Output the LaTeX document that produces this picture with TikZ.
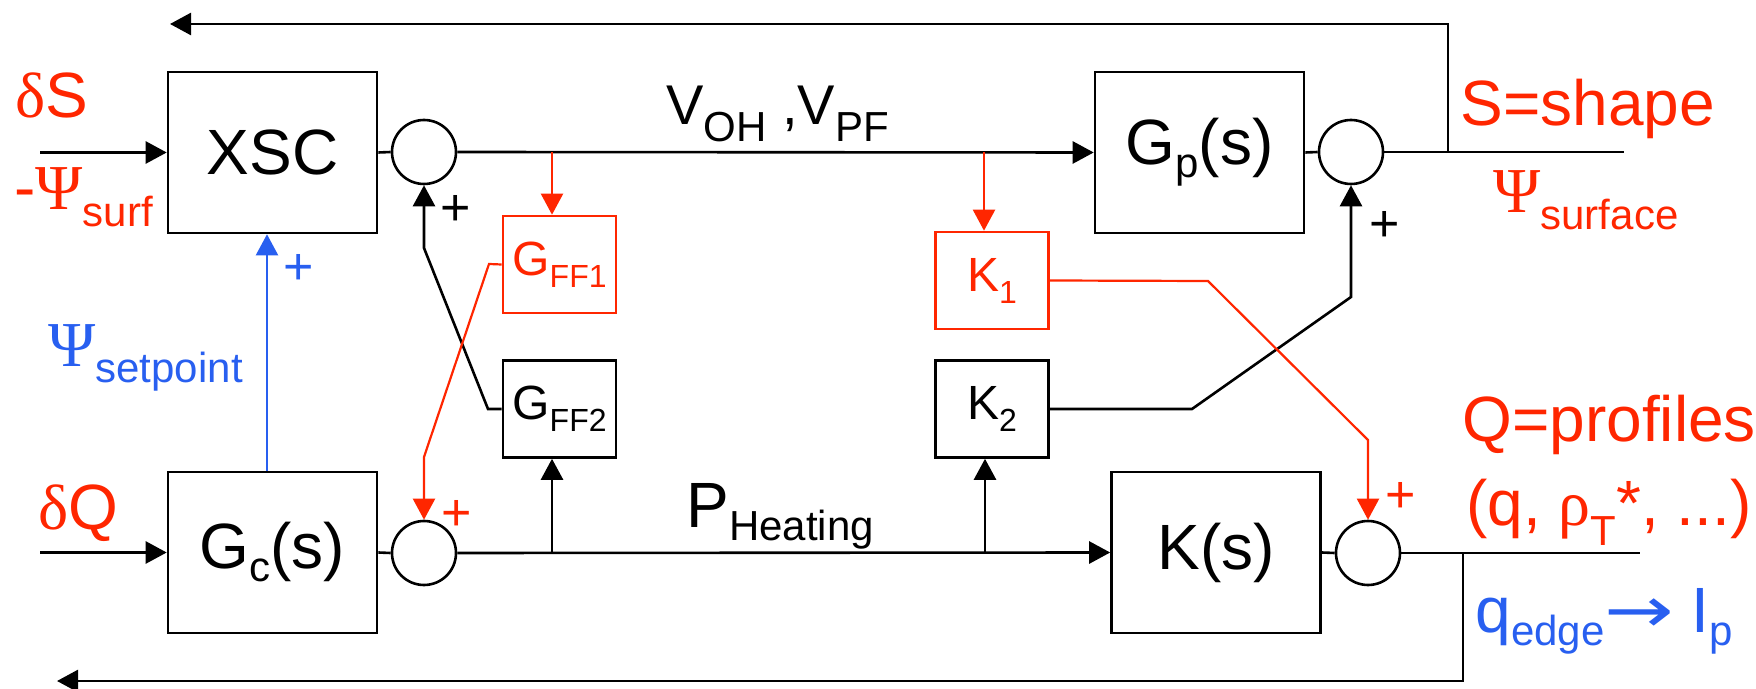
\documentclass[tikz,border=0pt]{standalone}
\usepackage{fontspec}
\setmainfont{Liberation Sans}
\newfontfamily\gk{Liberation Serif}
\newfontfamily\dvs{DejaVu Sans}
\usetikzlibrary{arrows.meta}
\definecolor{rd}{RGB}{255,38,0}
\definecolor{bl}{RGB}{40,95,240}
\newcommand\fsz[1]{\fontsize{#1pt}{#1pt}\selectfont}
\newcommand\lo[3]{\raisebox{-#1pt}{\fsz{#2}#3}}
\begin{document}
\begin{tikzpicture}[x=0.5pt,y=-0.5pt,
  bigbox/.style={draw,line width=1.3pt,minimum width=104.5pt,minimum height=80.5pt,inner sep=0pt,font=\fsz{32}},
  smallbox/.style={draw,line width=1.3pt,minimum width=56.5pt,minimum height=48.5pt,inner sep=0pt,font=\fsz{24}},
  sumnode/.style={draw,circle,line width=1.3pt,minimum size=32pt,inner sep=0pt},
  wire/.style={line width=1.3pt},
  rwire/.style={line width=1.1pt,draw=rd},
  bwire/.style={line width=1.1pt,draw=bl},
  arr/.style={-{Triangle[length=10.5pt,width=11pt]}},
  lbl/.style={inner sep=0pt,anchor=base west,font=\fsz{32}},
  sgn/.style={inner sep=0pt,font=\fsz{26}}]
\useasboundingbox (0,0) rectangle (1756,689);

% boxes
\node[bigbox] (XSC) at (272.5,152.5) {XSC};
\node[bigbox] (Gc) at (272.5,552.5) {G\lo{6.5}{21}{c}(s)};
\node[bigbox] (Gp) at (1199.5,152.5) {G\lo{6.5}{21}{p}(s)};
\node[bigbox] (Ks) at (1216,552.5) {K(s)};
\node[smallbox,draw=rd,text=rd] (GFF1) at (559.5,264.5) {G\lo{6}{16}{FF1}};
\node[smallbox] (GFF2) at (559.5,409) {G\lo{6}{16}{FF2}};
\node[smallbox,draw=rd,text=rd] (K1) at (992,280.5) {K\lo{6}{16}{1}};
\node[smallbox] (K2) at (992,409) {K\lo{6}{16}{2}};

% summing junctions
\node[sumnode] (c1) at (424,152) {};
\node[sumnode] (c2) at (424,553) {};
\node[sumnode] (c3) at (1351,152) {};
\node[sumnode] (c4) at (1368,553) {};

% free ends and taps
\coordinate (inS) at (40,152.5);
\coordinate (inQ) at (40,552.5);
\coordinate (outS) at (1624,152);
\coordinate (outQ) at (1640,553);
\coordinate (jS) at (1448,152);
\coordinate (fbS) at (170,24);
\coordinate (jQ) at (1463,553);
\coordinate (fbQ) at (57,681);
\coordinate (tapF1) at (552,152);
\coordinate (tapK1) at (984,152);
\coordinate (tapF2) at (552,553);
\coordinate (tapK2) at (985,553);

% main signal path
\draw[wire,arr] (inS) -- (XSC.west);
\draw[wire] (XSC.east) -- (c1.west);
\draw[wire,arr] (c1.east) -- (Gp.west);
\draw[wire] (Gp.east) -- (c3.west);
\draw[wire] (c3.east) -- (outS);
\draw[wire,arr] (inQ) -- (Gc.west);
\draw[wire] (Gc.east) -- (c2.west);
\draw[wire,arr] (c2.east) -- (Ks.west);
\draw[wire] (Ks.east) -- (c4.west);
\draw[wire] (c4.east) -- (outQ);

% feedbacks
\draw[wire,arr] (jS) -- (jS |- fbS) -- (fbS);
\draw[wire,arr] (jQ) -- (jQ |- fbQ) -- (fbQ);

% feedforward taps
\draw[rwire,arr] (tapF1) -- (tapF1 |- GFF1.north);
\draw[rwire,arr] (tapK1) -- (tapK1 |- K1.north);
\draw[wire,arr] (tapF2) -- (tapF2 |- GFF2.south);
\draw[wire,arr] (tapK2) -- (tapK2 |- K2.south);

% cross couplings
\draw[wire,arr] (GFF2.west) -- (488,409) -- (424,248) -- (c1.south);
\draw[rwire,arr] (GFF1.west) -- (489,264) -- (424,457) -- (c2.north);
\draw[wire,arr] (K2.east) -- (1192,409) -- (1351,297) -- (c3.south);
\draw[rwire,arr] (K1.east) -- (1208,281) -- (1368,440) -- (c4.north);

% setpoint
\draw[bwire,arr] ([xshift=-2.75pt]Gc.north) -- ([xshift=-2.75pt]XSC.south);

% signs
\node[sgn] (p1) at (456,210) {+};
\node[sgn,text=bl] (p2) at (299,269) {+};
\node[sgn,text=rd] (p3) at (457,515) {+};
\node[sgn] (p4) at (1385,226) {+};
\node[sgn,text=rd] (p5) at (1401,497) {+};

% labels
\node[lbl,text=rd] (dS) at (15,118) {{\gk δ}S};
\node[lbl,text=rd] (psurf) at (14,210) {-{\gk Ψ}\lo{8.5}{21}{surf}};
\node[lbl,text=bl] (pset) at (48,367) {{\gk Ψ}\lo{8}{21}{setpoint}};
\node[lbl,text=rd] (dQ) at (38,529) {{\gk δ}Q};
\node[lbl,font=\fsz{28}] (VV) at (666,125) {V\lo{8.5}{21}{OH} ,V\lo{8.5}{21}{PF}};
\node[lbl] (PH) at (686,527) {P\lo{6.5}{21}{Heating}};
\node[lbl,text=rd] (Ssh) at (1460,126) {S=shape};
\node[lbl,text=rd] (Psf) at (1493,213) {{\gk Ψ}\lo{8.5}{21}{surface}};
\node[lbl,text=rd] (Qpr) at (1462,442) {Q=profiles};
\node[lbl,text=rd] (qrho) at (1466,525) {(q, {\gk ρ}\lo{10}{21}{T}*, ...)};
\node[lbl,text=bl] (qIp) at (1475,632) {q\lo{6.5}{21}{edge}\scalebox{1.3}[1]{\dvs →} I\lo{6.5}{21}{p}};
\end{tikzpicture}
\end{document}
